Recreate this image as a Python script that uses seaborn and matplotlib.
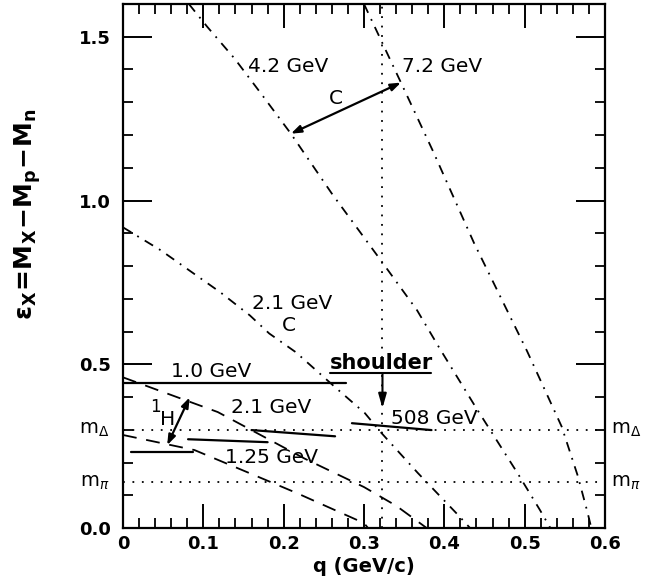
import matplotlib
matplotlib.use("Agg")
import matplotlib.pyplot as plt
import seaborn as sns
import pandas as pd

# ---- kinematic curves (q in GeV/c, epsilon in GeV) ----
# carbon, dash-dot
q_c21 = [0.000, 0.047, 0.121, 0.158, 0.182, 0.215, 0.264, 0.301, 0.321, 0.367, 0.417, 0.432]
e_c21 = [0.918, 0.848, 0.720, 0.649, 0.594, 0.537, 0.430, 0.351, 0.292, 0.168, 0.040, 0.000]
q_c42 = [0.082, 0.105, 0.139, 0.172, 0.209, 0.260, 0.321, 0.366, 0.394, 0.439, 0.491, 0.519, 0.532]
e_c42 = [1.600, 1.530, 1.433, 1.326, 1.204, 1.021, 0.817, 0.665, 0.549, 0.369, 0.168, 0.055, 0.000]
q_c72 = [0.300, 0.346, 0.386, 0.437, 0.483, 0.503, 0.546, 0.566, 0.578, 0.583]
e_c72 = [1.600, 1.360, 1.150, 0.870, 0.640, 0.540, 0.310, 0.160, 0.050, 0.000]
# hydrogen, long dash
q_h21 = [0.000, 0.118, 0.226, 0.300, 0.340, 0.378]
e_h21 = [0.460, 0.354, 0.212, 0.125, 0.068, 0.000]
q_h125 = [0.000, 0.089, 0.157, 0.216, 0.300, 0.305]
e_h125 = [0.284, 0.238, 0.168, 0.107, 0.015, 0.000]

# ---- measured ranges (solid segments) ----
q_1p0 = [0.000, 0.277]
e_1p0 = [0.442, 0.442]
q_2p1 = [0.160, 0.264]
e_2p1 = [0.299, 0.280]
q_mid = [0.081, 0.180]
e_mid = [0.271, 0.262]
q_1p25 = [0.010, 0.087]
e_1p25 = [0.232, 0.232]
q_508 = [0.285, 0.384]
e_508 = [0.320, 0.299]

# ---- reference levels ----
m_delta = 0.30
m_pi = 0.14
q_shoulder = 0.323

x_ticks = [0, 0.1, 0.2, 0.3, 0.4, 0.5, 0.6]
x_tick_labels = ["0", "0.1", "0.2", "0.3", "0.4", "0.5", "0.6"]
y_ticks = [0.0, 0.5, 1.0, 1.5]
y_tick_labels = ["0.0", "0.5", "1.0", "1.5"]

sns.set_theme(style="ticks")
plt.rcParams.update({
    "lines.scale_dashes": False,
    "xtick.direction": "in",
    "ytick.direction": "in",
    "xtick.top": True,
    "ytick.right": True,
    "axes.linewidth": 1.6,
    "text.color": "black",
    "axes.labelcolor": "black",
    "xtick.color": "black",
    "ytick.color": "black",
    "axes.edgecolor": "black",
    "font.family": ["DejaVu Sans"],
})

fig = plt.figure(figsize=(6.45, 5.85), dpi=100)
ax = fig.add_axes([123 / 645, 57 / 585, 482 / 645, 524 / 585])
ax.set_facecolor("white")
fig.patch.set_facecolor("white")

DASHDOT = (0, (7, 5, 1.3, 5))
LONGDASH = (0, (10, 7))
DOTTED = (0, (1.3, 5.5))


def curve(q, e, ls, lw=1.3):
    df = pd.DataFrame({"q": q, "e": e})
    sns.lineplot(data=df, x="q", y="e", ax=ax, color="black", lw=lw,
                 linestyle=ls, sort=False, estimator=None)


for q, e in [(q_c21, e_c21), (q_c42, e_c42), (q_c72, e_c72)]:
    curve(q, e, DASHDOT)
for q, e in [(q_h21, e_h21), (q_h125, e_h125)]:
    curve(q, e, LONGDASH)
for q, e in [(q_1p0, e_1p0), (q_2p1, e_2p1), (q_mid, e_mid),
             (q_1p25, e_1p25), (q_508, e_508)]:
    curve(q, e, "-", lw=1.6)

ax.axhline(m_delta, color="black", lw=1.3, linestyle=DOTTED)
ax.axhline(m_pi, color="black", lw=1.3, linestyle=DOTTED)
ax.axvline(q_shoulder, color="black", lw=1.3, linestyle=DOTTED)

# axes, ticks
ax.set_xlim(0, 0.6)
ax.set_ylim(0, 1.6)
ax.set_xticks(x_ticks)
ax.set_xticklabels(x_tick_labels)
ax.set_yticks(y_ticks)
ax.set_yticklabels(y_tick_labels)
ax.set_xticks([i * 0.02 for i in range(31)], minor=True)
ax.set_yticks([i * 0.1 for i in range(17)], minor=True)
ax.tick_params(which="major", length=17, width=1.4, color="black",
               labelsize=13, pad=5, labelcolor="black")
ax.tick_params(axis="y", which="major", length=21, pad=9)
ax.tick_params(which="minor", length=7, width=1.3, color="black")
for lab in ax.get_xticklabels() + ax.get_yticklabels():
    lab.set_fontweight("bold")
for s in ax.spines.values():
    s.set_color("black")
    s.set_visible(True)

ax.set_xlabel("q (GeV/c)", fontsize=14, fontweight="bold", labelpad=3)
ax.set_ylabel(r"$\mathbf{\epsilon_X\!=\!M_X\!-\!M_p\!-\!M_n}$", fontsize=18)
ax.yaxis.set_label_coords(-0.165, 0.6)

# mass labels on both sides
lbl = dict(fontsize=14, va="center")
ax.text(-0.017, m_delta, r"m$_\Delta$", ha="right", **lbl)
ax.text(-0.017, m_pi, r"m$_\pi$", ha="right", **lbl)
ax.text(0.607, m_delta, r"m$_\Delta$", ha="left", **lbl)
ax.text(0.607, m_pi, r"m$_\pi$", ha="left", **lbl)

# curve labels
tk = dict(fontsize=14.5, va="center", ha="left")
ax.text(0.155, 1.41, "4.2 GeV", **tk)
ax.text(0.347, 1.41, "7.2 GeV", **tk)
ax.text(0.265, 1.31, "C", fontsize=14.5, ha="center", va="center")
ax.text(0.161, 0.686, "2.1 GeV", **tk)
ax.text(0.207, 0.619, "C", fontsize=14.5, ha="center", va="center")
ax.text(0.060, 0.479, "1.0 GeV", **tk)
ax.text(0.134, 0.369, "2.1 GeV", **tk)
ax.text(0.334, 0.335, "508 GeV", **tk)
ax.text(0.127, 0.216, "1.25 GeV", **tk)
ax.text(0.041, 0.368, "1", fontsize=12, ha="center", va="center")
ax.text(0.056, 0.330, "H", fontsize=14.5, ha="center", va="center")

# shoulder marker
ax.text(0.258, 0.503, "shoulder", fontsize=15, fontweight="bold",
        ha="left", va="center")
ax.plot([0.258, 0.383], [0.473, 0.473], color="black", lw=1.5)
ax.annotate("", xy=(q_shoulder, 0.366), xytext=(q_shoulder, 0.473),
            arrowprops=dict(arrowstyle="-|>,head_length=0.7,head_width=0.2",
                            color="black", lw=1.5, shrinkA=0, shrinkB=0))

# double arrows
ax.annotate("", xy=(0.346, 1.36), xytext=(0.209, 1.204),
            arrowprops=dict(arrowstyle="<|-|>,head_length=0.5,head_width=0.18",
                            color="black", lw=1.6, shrinkA=0, shrinkB=0))
ax.annotate("", xy=(0.083, 0.399), xytext=(0.055, 0.253),
            arrowprops=dict(arrowstyle="<|-|>,head_length=0.5,head_width=0.18",
                            color="black", lw=1.6, shrinkA=0, shrinkB=0))

fig.savefig("out.png", dpi=100, facecolor="white")
